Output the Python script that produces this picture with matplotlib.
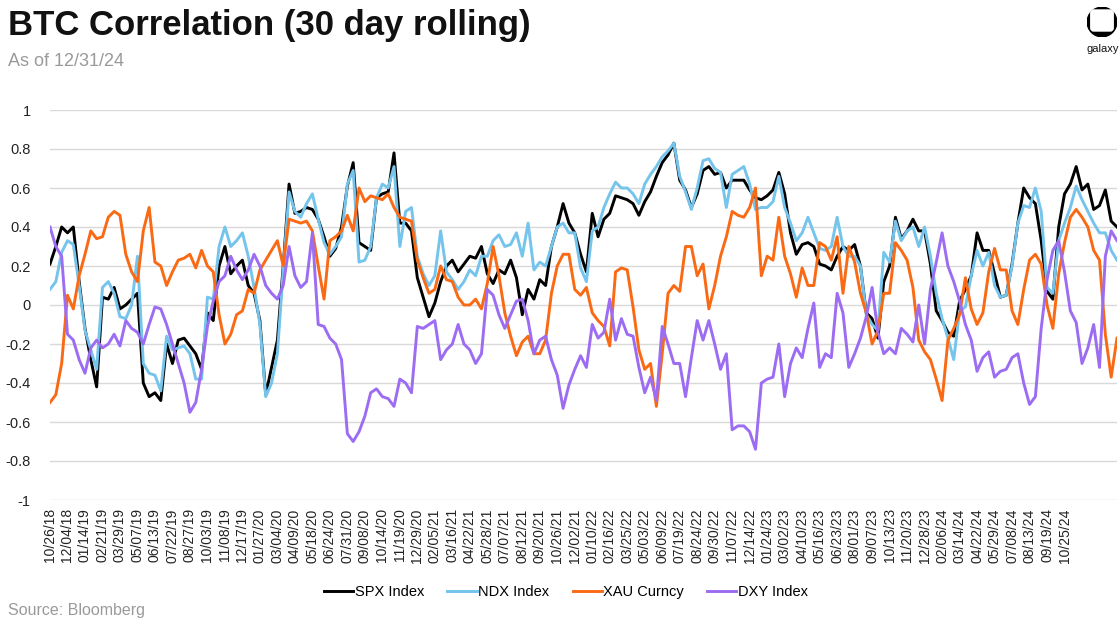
import matplotlib
matplotlib.use("Agg")
import matplotlib.pyplot as plt
import matplotlib.patches as mpatches
import numpy as np

plt.rcParams['font.family'] = ['Liberation Sans', 'DejaVu Sans']

# 30 day rolling correlation with BTC, every ~9 trading days
spx = [0.21, 0.30, 0.40, 0.37, 0.40, 0.12, -0.12, -0.28, -0.42, 0.04, 0.03, 0.09, -0.02, 0.00, 0.03, 0.06, -0.40, -0.47, -0.45, -0.49, -0.20, -0.30, -0.18, -0.17, -0.21, -0.25, -0.33,
       -0.04, -0.08, 0.20, 0.30, 0.16, 0.20, 0.23, 0.10, 0.06, -0.08, -0.46, -0.32, -0.18, 0.20, 0.62, 0.47, 0.48, 0.50, 0.49, 0.44, 0.35, 0.25, 0.29, 0.40, 0.61, 0.73, 0.32, 0.30, 0.28, 0.55,
       0.57, 0.58, 0.78, 0.42, 0.42, 0.38, 0.14, 0.04, -0.06, 0.01, 0.12, 0.20, 0.23, 0.17, 0.21, 0.25, 0.24, 0.30, 0.16, 0.11, 0.18, 0.16, 0.23, 0.14, -0.05, 0.08, 0.03, 0.13, 0.10, 0.30,
       0.40, 0.52, 0.42, 0.37, 0.26, 0.17, 0.47, 0.35, 0.44, 0.47, 0.56, 0.55, 0.54, 0.52, 0.46, 0.53, 0.58, 0.66, 0.73, 0.77, 0.83, 0.64, 0.59, 0.50, 0.57, 0.69, 0.71, 0.67, 0.68, 0.60, 0.64, 0.64,
       0.64, 0.59, 0.55, 0.54, 0.56, 0.59, 0.68, 0.57, 0.37, 0.26, 0.31, 0.32, 0.30, 0.21, 0.20, 0.18, 0.25, 0.30, 0.28, 0.31, 0.20, -0.04, -0.07, -0.17, 0.12, 0.20, 0.45, 0.34, 0.38, 0.44,
       0.38, 0.38, 0.21, -0.03, -0.08, -0.14, -0.16, 0.02, 0.08, 0.15, 0.37, 0.28, 0.28, 0.16, 0.04, 0.05, 0.21, 0.42, 0.60, 0.55, 0.52, 0.33, 0.07, 0.03, 0.40, 0.57, 0.62, 0.71, 0.59, 0.62, 0.49, 0.51, 0.59, 0.43, 0.40]

ndx = [0.08, 0.12, 0.27, 0.33, 0.31, 0.10, -0.13, -0.23, -0.33, 0.09, 0.12, 0.06, -0.06, -0.07, 0.00, 0.25, -0.30, -0.35, -0.36, -0.44, -0.16, -0.23, -0.22, -0.21, -0.25, -0.38, -0.38,
       0.04, 0.03, 0.30, 0.40, 0.30, 0.33, 0.37, 0.25, 0.09, -0.10, -0.47, -0.40, -0.25, 0.18, 0.58, 0.48, 0.45, 0.52, 0.57, 0.44, 0.32, 0.26, 0.30, 0.35, 0.62, 0.69, 0.22, 0.23, 0.30, 0.55,
       0.62, 0.60, 0.71, 0.30, 0.48, 0.50, 0.25, 0.16, 0.10, 0.15, 0.38, 0.17, 0.13, 0.08, 0.12, 0.18, 0.15, 0.25, 0.25, 0.33, 0.36, 0.30, 0.31, 0.37, 0.25, 0.42, 0.18, 0.22, 0.20, 0.30,
       0.40, 0.42, 0.37, 0.37, 0.19, 0.12, 0.38, 0.40, 0.50, 0.57, 0.63, 0.60, 0.60, 0.57, 0.52, 0.62, 0.67, 0.71, 0.76, 0.79, 0.83, 0.66, 0.58, 0.49, 0.60, 0.74, 0.75, 0.70, 0.68, 0.50, 0.67, 0.69,
       0.71, 0.62, 0.49, 0.50, 0.50, 0.53, 0.66, 0.50, 0.42, 0.33, 0.37, 0.45, 0.37, 0.29, 0.28, 0.30, 0.45, 0.30, 0.25, 0.25, 0.20, -0.05, -0.10, -0.13, 0.27, 0.22, 0.43, 0.33, 0.38, 0.40,
       0.30, 0.40, 0.25, 0.06, -0.07, -0.17, -0.28, -0.03, -0.01, 0.15, 0.28, 0.20, 0.27, 0.10, 0.04, 0.05, 0.20, 0.42, 0.51, 0.50, 0.60, 0.48, 0.09, 0.06, 0.33, 0.42, 0.50, 0.61, 0.54, 0.48, 0.42, 0.37, 0.37, 0.28, 0.23]

xau = [-0.50, -0.46, -0.30, 0.05, -0.02, 0.15, 0.26, 0.38, 0.34, 0.35, 0.45, 0.48, 0.46, 0.26, 0.17, 0.12, 0.38, 0.50, 0.22, 0.20, 0.10, 0.17, 0.23, 0.24, 0.26, 0.19, 0.28,
       0.20, 0.17, -0.05, -0.20, -0.15, -0.05, -0.03, 0.08, 0.06, 0.18, 0.23, 0.28, 0.33, 0.20, 0.44, 0.43, 0.42, 0.43, 0.38, 0.20, 0.03, 0.33, 0.35, 0.38, 0.46, 0.38, 0.60, 0.53, 0.56, 0.55,
       0.54, 0.57, 0.50, 0.45, 0.44, 0.43, 0.23, 0.14, 0.06, 0.08, 0.20, 0.13, 0.12, 0.04, 0.00, 0.00, 0.03, -0.02, 0.11, 0.30, 0.15, -0.04, -0.16, -0.26, -0.19, -0.16, -0.25, -0.25, -0.18, 0.06,
       0.20, 0.26, 0.26, 0.08, 0.05, 0.09, -0.04, -0.08, -0.11, -0.21, 0.17, 0.19, 0.18, -0.01, -0.23, -0.33, -0.30, -0.52, -0.25, 0.06, 0.10, 0.07, 0.30, 0.30, 0.15, 0.21, -0.02, 0.10, 0.25, 0.35, 0.48, 0.46,
       0.45, 0.50, 0.60, 0.15, 0.25, 0.23, 0.45, 0.25, 0.16, 0.04, 0.19, 0.10, 0.10, 0.32, 0.30, 0.23, 0.35, 0.06, 0.30, 0.22, 0.06, -0.04, -0.20, -0.13, 0.06, 0.06, 0.32, 0.28, 0.23, 0.09,
       -0.18, -0.24, -0.28, -0.38, -0.49, -0.18, -0.12, -0.05, 0.14, -0.02, -0.10, -0.04, 0.17, 0.29, 0.18, 0.18, -0.03, -0.10, 0.08, 0.23, 0.26, 0.21, 0.00, -0.12, 0.16, 0.32, 0.45, 0.49, 0.45, 0.40, 0.28, 0.23, -0.15, -0.37, -0.17]

dxy = [0.40, 0.30, 0.25, -0.15, -0.18, -0.28, -0.35, -0.22, -0.18, -0.22, -0.20, -0.15, -0.21, -0.08, -0.12, -0.14, -0.20, -0.10, -0.01, -0.02, -0.10, -0.20, -0.30, -0.40, -0.55, -0.50, -0.33,
       -0.11, 0.02, 0.12, 0.15, 0.25, 0.18, 0.13, 0.18, 0.26, 0.20, 0.10, 0.06, 0.03, 0.10, 0.30, 0.15, 0.09, 0.12, 0.37, -0.10, -0.11, -0.17, -0.20, -0.28, -0.66, -0.70, -0.65, -0.57, -0.45, -0.43,
       -0.47, -0.48, -0.52, -0.38, -0.40, -0.45, -0.11, -0.12, -0.10, -0.08, -0.28, -0.23, -0.20, -0.10, -0.20, -0.23, -0.30, -0.25, 0.08, 0.05, -0.05, -0.12, -0.05, 0.02, 0.03, -0.08, -0.25, -0.18, -0.16, -0.28,
       -0.36, -0.53, -0.41, -0.33, -0.26, -0.32, -0.10, -0.17, -0.14, 0.03, -0.18, -0.07, -0.15, -0.16, -0.32, -0.45, -0.37, -0.49, -0.11, -0.20, -0.30, -0.30, -0.47, -0.27, -0.08, -0.18, -0.08, -0.20, -0.33, -0.25, -0.64, -0.62,
       -0.62, -0.65, -0.74, -0.40, -0.38, -0.37, -0.20, -0.47, -0.30, -0.22, -0.27, -0.12, 0.01, -0.32, -0.25, -0.27, 0.06, -0.04, -0.32, -0.25, -0.17, -0.06, 0.09, -0.14, -0.25, -0.22, -0.25, -0.12, -0.15, -0.19,
       0.00, -0.20, 0.08, 0.22, 0.37, 0.20, 0.12, 0.02, -0.10, -0.18, -0.34, -0.27, -0.24, -0.37, -0.34, -0.33, -0.27, -0.25, -0.40, -0.51, -0.47, -0.12, 0.13, 0.28, 0.33, 0.17, -0.03, -0.09, -0.30, -0.22, -0.10, -0.32, 0.25, 0.38, 0.33]

tick_labels = ["10/26/18", "12/04/18", "01/14/19", "02/21/19", "03/29/19", "05/07/19", "06/13/19", "07/22/19",
               "08/27/19", "10/03/19", "11/08/19", "12/17/19", "01/27/20", "03/04/20", "04/09/20", "05/18/20",
               "06/24/20", "07/31/20", "09/08/20", "10/14/20", "11/19/20", "12/29/20", "02/05/21", "03/16/21",
               "04/22/21", "05/28/21", "07/07/21", "08/12/21", "09/20/21", "10/26/21", "12/02/21", "01/10/22",
               "02/16/22", "03/25/22", "05/03/22", "06/09/22", "07/19/22", "08/24/22", "09/30/22", "11/07/22",
               "12/14/22", "01/24/23", "03/02/23", "04/10/23", "05/16/23", "06/23/23", "08/01/23", "09/07/23",
               "10/13/23", "11/20/23", "12/28/23", "02/06/24", "03/14/24", "04/22/24", "05/29/24", "07/08/24",
               "08/13/24", "09/19/24", "10/25/24"]

series = [("SPX Index", spx, "#000000"),
          ("NDX Index", ndx, "#74C4EC"),
          ("XAU Curncy", xau, "#FA6A14"),
          ("DXY Index", dxy, "#9C6CF2")]

step = 9          # trading days between read-off points
label_every = 27  # trading days between axis labels

fig = plt.figure(figsize=(11.2, 6.28), dpi=100)
ax = fig.add_axes([50/1120, 128/628, 1067/1120, 390/628])

for name, vals, col in series:
    days = np.arange(len(vals)) * step
    ax.plot(days, vals, color=col, lw=2.1, label=name, solid_joinstyle='round')

ax.set_xlim(0, (len(spx) - 1) * step)
ax.set_ylim(-1, 1)
ax.set_xticks(np.arange(len(tick_labels)) * label_every)
ax.set_xticklabels(tick_labels, rotation=90, fontsize=10, color="#222222")
yt = np.round(np.arange(-1, 1.01, 0.2), 1)
ax.set_yticks(yt)
ax.set_yticklabels(["%g" % v if v != 0 else "0" for v in yt], fontsize=10.5, color="#222222")
ax.tick_params(length=0, pad=6)
ax.tick_params(axis='y', pad=14)
ax.grid(axis='y', color="#D9D9D9", lw=1.0)
ax.set_axisbelow(True)
for s in ax.spines.values():
    s.set_visible(False)

fig.text(8/1120, 1 - 25/628, "BTC Correlation (30 day rolling)", fontsize=25, fontweight='bold',
         va='center', ha='left', color="#111111")
fig.text(8/1120, 1 - 62/628, "As of 12/31/24", fontsize=13, va='center', ha='left', color="#9A9A9A")
fig.text(8/1120, 1 - 611/628, "Source: Bloomberg", fontsize=11.5, va='center', ha='left', color="#9A9A9A")

fig.legend(loc='center', bbox_to_anchor=(566/1120, 1 - 592/628), ncol=4, frameon=False, fontsize=10.5,
           handlelength=2.0, handletextpad=0.1, columnspacing=1.6)

# galaxy logo, drawn in a small pixel-sized axes
lax = fig.add_axes([1087/1120, 1 - 37/628, 30/1120, 30/628])
lax.set_xlim(0, 30)
lax.set_ylim(0, 30)
lax.axis('off')
lax.add_patch(mpatches.Circle((15, 15), 14.8, color='black'))
lax.add_patch(mpatches.FancyBboxPatch((3.8, 6.0), 22.4, 21.0, boxstyle="round,pad=0,rounding_size=3",
                                      color='white'))
fig.text(1103/1120, 1 - 49/628, "galaxy", fontsize=8, ha='center', va='center', color="#111111")

fig.savefig("out.png", dpi=100)
